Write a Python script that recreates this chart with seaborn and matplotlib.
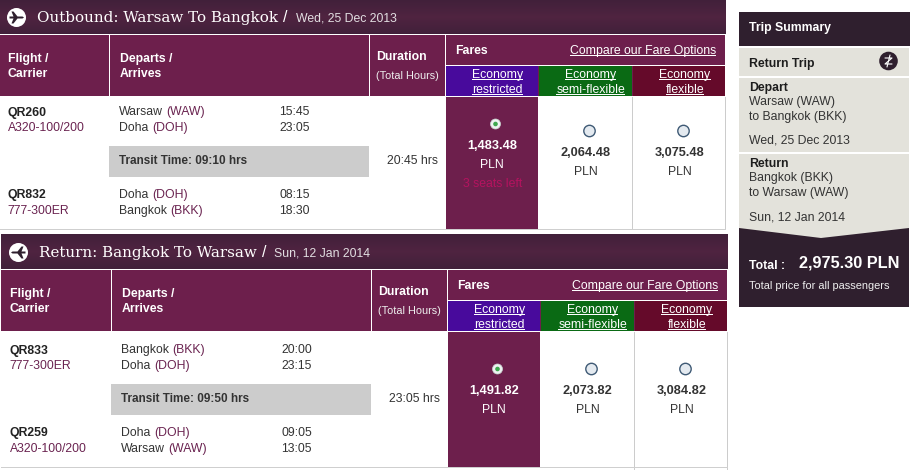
import matplotlib
matplotlib.use('Agg')
import numpy as np
import seaborn as sns
import matplotlib.pyplot as plt
from matplotlib.patches import Circle, Polygon, Rectangle

# Screenshot content
panel_titles = ['Outbound: Warsaw To Bangkok', 'Return: Bangkok To Warsaw']
panel_dates = ['Wed, 25 Dec 2013', 'Sun, 12 Jan 2014']
fare_names = [('Economy', 'restricted'), ('Economy', 'semi-flexible'), ('Economy', 'flexible')]
flight_codes = [['QR260', 'QR832'], ['QR833', 'QR259']]
carriers = [['A320-100/200', '777-300ER'], ['777-300ER', 'A320-100/200']]
places = [[('Warsaw', 'WAW'), ('Doha', 'DOH'), ('Doha', 'DOH'), ('Bangkok', 'BKK')],
          [('Bangkok', 'BKK'), ('Doha', 'DOH'), ('Doha', 'DOH'), ('Warsaw', 'WAW')]]
times = [['15:45', '23:05', '08:15', '18:30'], ['20:00', '23:15', '09:05', '13:05']]
transit_times = ['09:10', '09:50']
durations = ['20:45 hrs', '23:05 hrs']
prices = [['1,483.48', '2,064.48', '3,075.48'], ['1,491.82', '2,073.82', '3,084.82']]
seats_left = ['3 seats left', '']
total_price = '2,975.30 PLN'

PLUM = '#6d1f4c'
TOP_DARK, TOP_MID = '#41203a', '#4f2340'
FARE_COLORS = ['#480a9c', '#0a6a14', '#650a2a']
BEIGE = '#e3e2db'
SUMMARY = '#2f1f2e'
LINK = '#6a2350'
SANS = 'Liberation Sans'

sns.set_theme(style='white')
plt.rcParams['font.family'] = [SANS, 'DejaVu Sans']

fig = plt.figure(figsize=(9.19, 4.70), dpi=100, facecolor='white')
ax = fig.add_axes([0, 0, 1, 1])
ax.set_xlim(0, 919)
ax.set_ylim(470, 0)
ax.axis('off')
renderer = fig.canvas.get_renderer()


def px(size):
    return size * 72 / 100


def box(x0, y0, x1, y1, color, z=1):
    ax.add_patch(Rectangle((x0, y0), x1 - x0, y1 - y0, fc=color, ec='none', lw=0, zorder=z))


def put(x, y, s, size=12.2, color='#333333', bold=False, ha='left', family=None):
    # y is the middle of the capitals, the text sits on its baseline
    return ax.text(x, y + size * 0.34, s, fontsize=px(size), color=color, ha=ha, va='baseline',
                   fontweight='bold' if bold else 'normal', family=family or SANS, zorder=5)


def right_of(t):
    return t.get_window_extent(renderer).transformed(ax.transData.inverted()).x1


def place_text(x, y, name, code):
    t = put(x, y, name)
    put(right_of(t) + 3.5, y, f'({code})', color=LINK)


def linked(x, y, s, ha='center'):
    t = put(x, y, s, color='white', ha=ha)
    b = t.get_window_extent(renderer).transformed(ax.transData.inverted())
    box(b.x0, round(y + 5), b.x1, round(y + 5) + 1, 'white', z=5)


def plane(cx, cy, flip):
    ax.add_patch(Circle((cx, cy), 9.5, fc='white', ec='none', zorder=4))
    shape = np.array([[-7, -1], [-3, -1], [-5, -6], [-3, -6], [1, -1], [6, -1], [7.5, 0], [6, 1],
                      [1, 1], [-3, 6], [-5, 6], [-3, 1], [-7, 1]], dtype=float)
    if flip:
        shape[:, 0] *= -1
    ax.add_patch(Polygon(shape + [cx, cy], fc=SUMMARY, ec='none', zorder=5))


def radio(cx, cy, selected):
    if selected:
        ax.add_patch(Circle((cx, cy), 5, fc='#eef2f2', ec='#c9d6d0', lw=0.5, zorder=4))
        ax.add_patch(Circle((cx, cy), 2.3, fc='#3ea84f', ec='none', zorder=5))
    else:
        ax.add_patch(Circle((cx, cy), 5.7, fc='#e4eaf0', ec='#3f5a75', lw=1.0, zorder=4))


def panel(i, x0, head, body):
    # x0 shifts the whole panel, head the header rows, body the rows below
    right = x0 + 726
    left = x0 - i
    stripes = sns.blend_palette([TOP_DARK, TOP_MID, TOP_DARK], 34 + i)
    for k, c in enumerate(stripes):
        box(left, head - i + k, right, head - i + k + 1, c)
    plane(x0 + 16.5, head + 17.5, i == 1)
    t = put(x0 + 37, head + 16.5, panel_titles[i], size=15.1, color='white', family='DejaVu Serif')
    t2 = put(right_of(t) + 5, head + 17, '/', size=16, color='white')
    put(right_of(t2) + 8, head + 17.5, panel_dates[i], color='#e2dfe2')

    # header row
    box(left, head + 35, right - 1, head + 96, PLUM)
    for x in (109, 369, 445):
        box(x0 + x, head + 35, x0 + x + 1, head + 97, 'white', z=3)
    put(x0 + 7.5, head + 58, 'Flight /', color='white', bold=True)
    put(x0 + 7.5, head + 73, 'Carrier', color='white', bold=True)
    put(x0 + 119.5, head + 58, 'Departs /', color='white', bold=True)
    put(x0 + 119.5, head + 73, 'Arrives', color='white', bold=True)
    put(x0 + 376, head + 56, 'Duration', color='white', bold=True)
    put(x0 + 376, head + 75, '(Total Hours)', size=10.9, color='#eeeeee')
    put(x0 + 455.5, head + 50, 'Fares', color='white', bold=True)
    linked(x0 + 716, head + 50, 'Compare our Fare Options', ha='right')
    box(x0 + 446, head + 65, right - 1, head + 66, 'white', z=3)

    col_edges = [446, 539, 633, 726]
    radio_x = [495.5, 589.5, 683.5]
    price_x = [492, 585.5, 680]
    name_x = [497.5, 590.6, 685]
    for j, name in enumerate(fare_names):
        box(x0 + col_edges[j], head + 66, x0 + col_edges[j + 1] - 1, head + 96, FARE_COLORS[j], z=2)
        linked(x0 + name_x[j], head + 74, name[0])
        linked(x0 + name_x[j], head + 89, name[1])

    # fare cells
    bottom = body + 229
    box(x0 + 446, head + 97, x0 + 538, bottom, PLUM, z=2)
    box(left, bottom, right, bottom + 1, '#cfcfcf', z=2)
    line_end = 470 if i == 1 else bottom
    for x in (632, 725):
        box(x0 + x, head + 97, x0 + x + 1, line_end, '#cccccc', z=1)
    for j in range(3):
        selected = j == 0
        shift = -7 if selected and seats_left[i] else 0
        radio(x0 + radio_x[j], body + 131 + shift, selected)
        put(x0 + price_x[j], body + 152 + shift, prices[i][j], size=12.8,
            color='white' if selected else '#333333', bold=True, ha='center')
        put(x0 + price_x[j], body + 171 + shift, 'PLN', color='white' if selected else '#333333',
            ha='center')
    if seats_left[i]:
        put(x0 + price_x[0] + 1, body + 183, seats_left[i], color='#b5135f', ha='center')

    # flights
    rows = [111, 127, 194, 210]
    code_rows = [112, 194]
    carrier_rows = [127, 210]
    for k in range(2):
        put(x0 + 7.5, body + code_rows[k], flight_codes[i][k], bold=True, color='#222222')
        put(x0 + 7.5, body + carrier_rows[k], carriers[i][k], color=LINK)
    for k in range(4):
        place_text(x0 + 119, body + rows[k], places[i][k][0], places[i][k][1])
        put(x0 + 279.5, body + rows[k], times[i][k])
    box(x0 + 109, body + 146, x0 + 369, body + 177, '#cccccc', z=2)
    put(x0 + 119, body + 160, f'Transit Time: {transit_times[i]} hrs', size=11.8, bold=True)
    put(x0 + 387, body + 160, durations[i])


panel(0, 0, 0, 0)
panel(1, 2, 235, 238)

# Trip summary column
box(739, 12, 910, 46, SUMMARY)
box(739, 48, 909, 76, BEIGE)
box(739, 78, 909, 152, BEIGE)
box(739, 154, 909, 240, BEIGE)
ax.add_patch(Polygon([[739, 228], [821, 238], [909, 228], [909, 307], [739, 307]], fc=SUMMARY,
                     ec='none', zorder=2))
put(749, 27, 'Trip Summary', color='white', bold=True)
put(749, 63, 'Return Trip', color='#1d1d1d', bold=True)
ax.add_patch(Circle((888.5, 61), 9.3, fc=SUMMARY, ec='none', zorder=4))
ax.plot([885, 892, 885, 892], [58, 58, 64, 64], color='white', lw=0.8, zorder=5)
ax.plot([890, 887], [55, 67], color='white', lw=0.8, zorder=5)
put(749, 87, 'Depart', color='#1d1d1d', bold=True)
put(749, 101, 'Warsaw (WAW)')
put(749, 116, 'to Bangkok (BKK)')
put(749, 139, panel_dates[0])
put(749, 163, 'Return', color='#1d1d1d', bold=True)
put(749, 177, 'Bangkok (BKK)')
put(749, 192, 'to Warsaw (WAW)')
put(749, 216, panel_dates[1])
put(749, 265, 'Total :', color='white', bold=True)
put(799, 262, total_price, size=16.2, color='white', bold=True)
put(749, 285, 'Total price for all passengers', size=11, color='#eeeeee')

fig.savefig('out.png', dpi=100, facecolor='white')
